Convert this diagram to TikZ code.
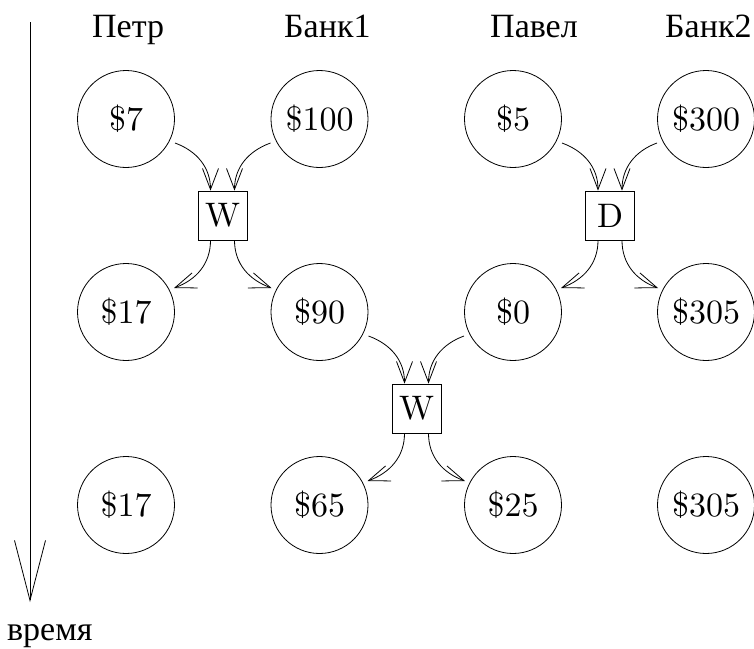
\documentclass[tikz,border=0pt]{standalone}
\usepackage{graphicx}
\usepackage{fontspec}
\newfontfamily\cyr{Liberation Serif}
\usetikzlibrary{arrows.meta}
\newcommand{\bigtxt}[1]{\scalebox{3.4}{\fontsize{10}{12}\selectfont #1}}
\begin{document}
\begin{tikzpicture}[x=1pt,y=-1pt,
  acct/.style={draw,circle,minimum size=97pt,inner sep=0pt,line width=0.8pt},
  opbox/.style={draw,minimum size=49pt,inner sep=0pt,line width=0.8pt},
  who/.style={anchor=base west,inner sep=0pt,font=\cyr\fontsize{34}{40}\selectfont},
  flow/.style={-{Straight Barb[length=21pt,width=16pt]},line width=0.8pt},
  ]
\useasboundingbox (0,0) rectangle (754,648);

% column headers
\node[who] (h1) at (92,37) {Петр};
\node[who] (h2) at (284,37) {Банк1};
\node[who] (h3) at (490,37) {Павел};
\node[who] (h4) at (665,37) {Банк2};

% time axis
\coordinate (ttop) at (30,22);
\coordinate (tbot) at (30,602);
\draw[line width=0.8pt,-{Straight Barb[length=60pt,width=31pt]}] (ttop) -- (tbot);
\node[who] (tl) at (7,640) {время};

% accounts, row 1
\node[acct] (a1) at (126,119) {\bigtxt{\$7}};
\node[acct] (b1) at (319.5,119) {\bigtxt{\$100}};
\node[acct] (c1) at (513,119) {\bigtxt{\$5}};
\node[acct] (d1) at (706,119) {\bigtxt{\$300}};
% row 2
\node[acct] (a2) at (126,312) {\bigtxt{\$17}};
\node[acct] (b2) at (319.5,312) {\bigtxt{\$90}};
\node[acct] (c2) at (513,312) {\bigtxt{\$0}};
\node[acct] (d2) at (706,312) {\bigtxt{\$305}};
% row 3
\node[acct] (a3) at (126,505) {\bigtxt{\$17}};
\node[acct] (b3) at (319.5,505) {\bigtxt{\$65}};
\node[acct] (c3) at (513,505) {\bigtxt{\$25}};
\node[acct] (d3) at (706,505) {\bigtxt{\$305}};

% operations
\node[opbox] (w1) at (222.5,215.5) {\bigtxt{W}};
\node[opbox] (dd) at (610,215.5) {\bigtxt{D}};
\node[opbox] (w2) at (416.5,408.5) {\bigtxt{W}};

% W1
\draw[flow] ([shift={(49,24)}]a1.center) to[out=-20,in=90] ([xshift=-12pt]w1.north);
\draw[flow] ([shift={(-49,24)}]b1.center) to[out=-160,in=90] ([xshift=12pt]w1.north);
\draw[flow] ([xshift=-12pt]w1.south) to[out=-90,in=20] ([shift={(48,-24)}]a2.center);
\draw[flow] ([xshift=12pt]w1.south) to[out=-90,in=160] ([shift={(-48,-24)}]b2.center);

% D
\draw[flow] ([shift={(49,24)}]c1.center) to[out=-20,in=90] ([xshift=-12pt]dd.north);
\draw[flow] ([shift={(-49,24)}]d1.center) to[out=-160,in=90] ([xshift=12pt]dd.north);
\draw[flow] ([xshift=-12pt]dd.south) to[out=-90,in=20] ([shift={(48,-24)}]c2.center);
\draw[flow] ([xshift=12pt]dd.south) to[out=-90,in=160] ([shift={(-48,-24)}]d2.center);

% W2
\draw[flow] ([shift={(49,24)}]b2.center) to[out=-20,in=90] ([xshift=-12pt]w2.north);
\draw[flow] ([shift={(-49,24)}]c2.center) to[out=-160,in=90] ([xshift=12pt]w2.north);
\draw[flow] ([xshift=-12pt]w2.south) to[out=-90,in=20] ([shift={(48,-24)}]b3.center);
\draw[flow] ([xshift=12pt]w2.south) to[out=-90,in=160] ([shift={(-48,-24)}]c3.center);
\end{tikzpicture}
\end{document}
